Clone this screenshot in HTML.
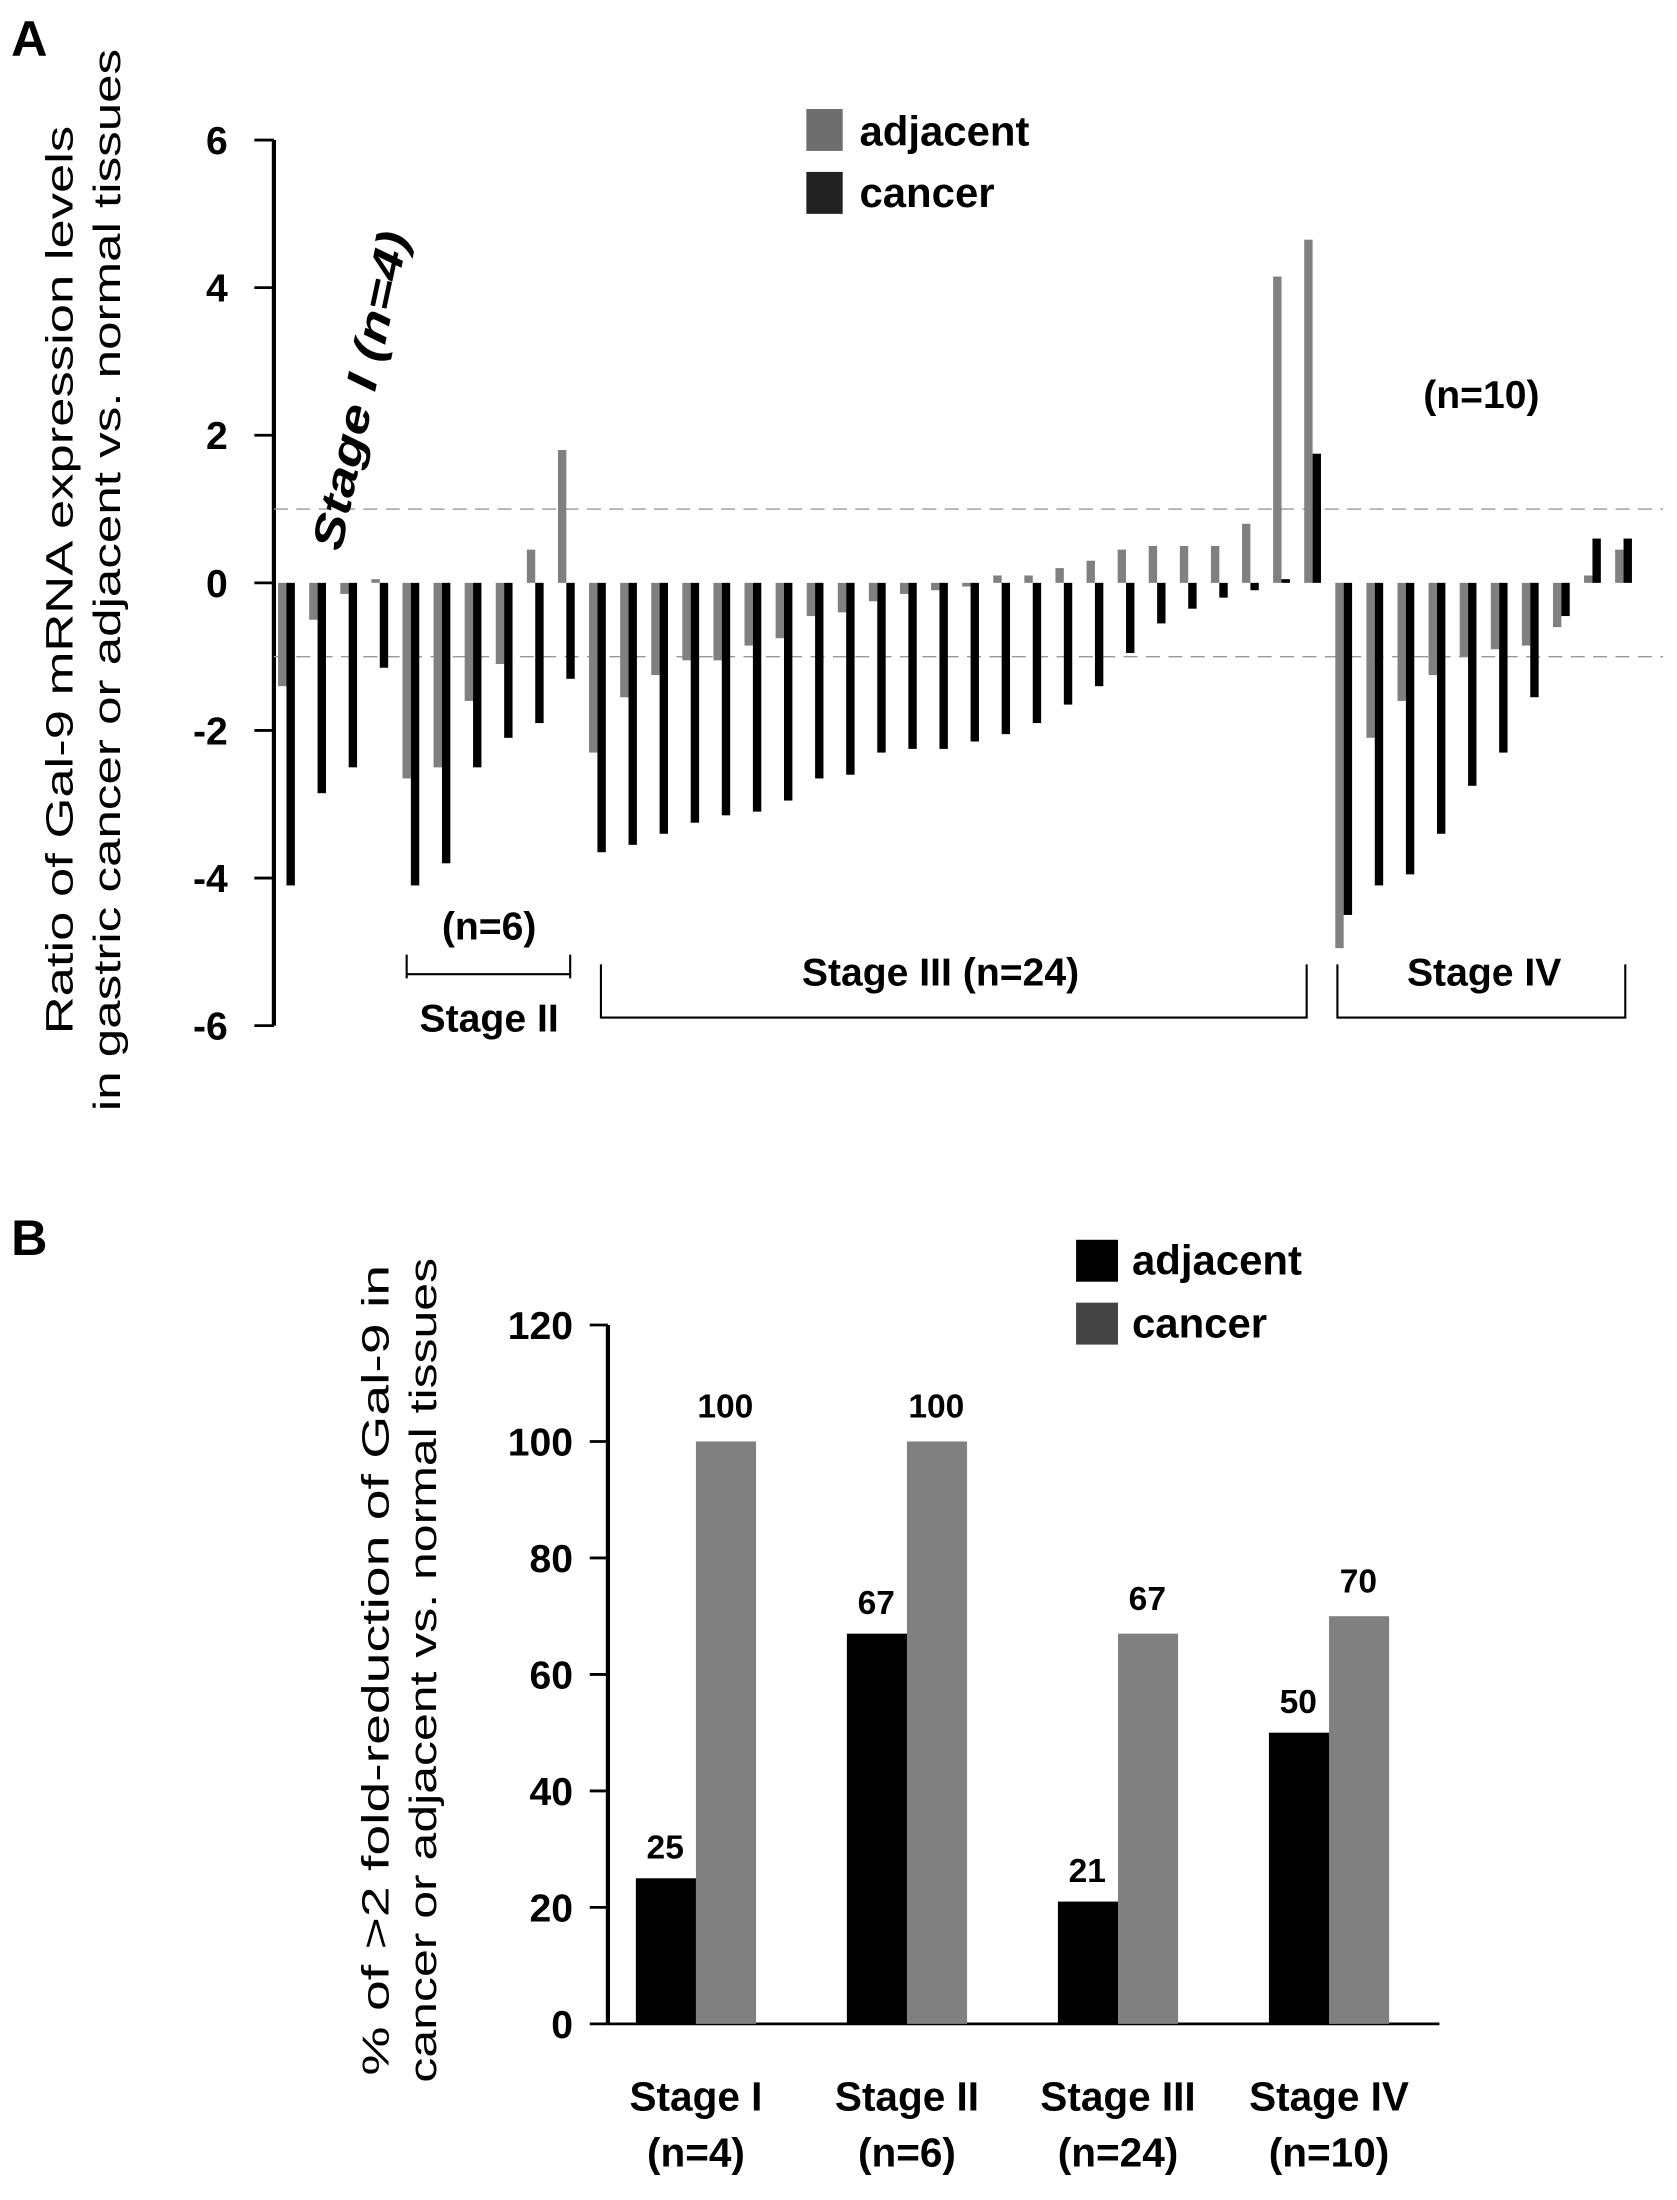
<!DOCTYPE html>
<html><head><meta charset="utf-8"><style>
html,body{margin:0;padding:0;background:#fff}
svg{display:block}
text{font-family:"Liberation Sans",Arial,sans-serif}
.b{font-weight:bold}
</style></head><body>
<svg id="fig" width="1677" height="2200" viewBox="0 0 1200 1574" preserveAspectRatio="none" xmlns="http://www.w3.org/2000/svg">
<rect width="1200" height="1574" fill="#fff"/>
<text x="8" y="40" class="b" font-size="36">A</text>
<text x="8" y="898" class="b" font-size="36">B</text>
<g id="chartA"></g>
<g id="chartB"></g>
</svg>
<script>
const NS='http://www.w3.org/2000/svg';
// ---- Chart A data ----
const stageIAdj=[-1.4,-0.5,-0.15,0.05];
const stageICan=[-4.1,-2.85,-2.5,-1.15];
const stageIIAdj=[-2.65,-2.5,-1.6,-1.1,0.45,1.8];
const stageIICan=[-4.1,-3.8,-2.5,-2.1,-1.9,-1.3];
const stageIIIAdj=[-2.3,-1.55,-1.25,-1.05,-1.05,-0.85,-0.75,-0.45,-0.4,-0.25,-0.15,-0.1,-0.05,0.1,0.1,0.2,0.3,0.45,0.5,0.5,0.5,0.8,4.15,4.65];
const stageIIICan=[-3.65,-3.55,-3.4,-3.25,-3.15,-3.1,-2.95,-2.65,-2.6,-2.3,-2.25,-2.25,-2.15,-2.05,-1.9,-1.65,-1.4,-0.95,-0.55,-0.35,-0.2,-0.1,0.05,1.75];
const stageIVAdj=[-4.95,-2.1,-1.6,-1.25,-1.0,-0.9,-0.85,-0.6,0.1,0.45];
const stageIVCan=[-4.5,-4.1,-3.95,-3.4,-2.75,-2.3,-1.55,-0.45,0.6,0.6];
const yTicksA=[6,4,2,0,-2,-4,-6];
// ---- Chart B data ----
const stagesB=['Stage I','Stage II','Stage III','Stage IV'];
const stagesBn=['(n=4)','(n=6)','(n=24)','(n=10)'];
const pctAdj=[25,67,21,50];
const pctCan=[100,100,67,70];
const yTicksB=[0,20,40,60,80,100,120];

function el(tag,attrs,parent,txt){const e=document.createElementNS(NS,tag);for(const k in attrs)e.setAttribute(k,attrs[k]);if(txt!==undefined)e.textContent=txt;parent.appendChild(e);return e;}

// Chart A
const A=document.getElementById('chartA');
const yA=v=>417-v*52.8;
const xA=i=>199+i*22.25;
el('line',{x1:196,y1:yA(6),x2:196,y2:yA(-6),stroke:'#000','stroke-width':3},A);
yTicksA.forEach(t=>{
  const l=el('line',{x1:182,y1:yA(t),x2:196,y2:yA(t),stroke:'#000','stroke-width':2},A);
  
  
  const tx=el('text',{x:163,y:yA(t)+10,'text-anchor':'end','font-size':28,class:'b'},A,String(t));
  
  
});
[1,-1].forEach(v=>{
  const l=el('line',{x1:196,y1:yA(v),x2:1190,y2:yA(v),stroke:'#999','stroke-width':1,'stroke-dasharray':'10,6'},A);
  
  
});
const adjAll=[...stageIAdj,...stageIIAdj,...stageIIIAdj,...stageIVAdj];
const canAll=[...stageICan,...stageIICan,...stageIIICan,...stageIVCan];
adjAll.forEach((v,i)=>{
  const r=el('rect',{x:xA(i),y:Math.min(yA(v),yA(0)),width:6,height:Math.max(1,Math.abs(yA(v)-yA(0))),fill:'#808080'},A);
  
  
});
canAll.forEach((v,i)=>{
  const r=el('rect',{x:xA(i)+6,y:Math.min(yA(v),yA(0)),width:6,height:Math.max(1,Math.abs(yA(v)-yA(0))),fill:'#000'},A);
  
  
});
// legend A
let r=el('rect',{x:577,y:78,width:26,height:30,fill:'#6e6e6e'},A);

r=el('rect',{x:577,y:123,width:26,height:30,fill:'#222'},A);

let t=el('text',{x:615,y:104,'font-size':30,class:'b'},A,'adjacent');

t=el('text',{x:615,y:148,'font-size':30,class:'b'},A,'cancer');

// y title A
t=el('text',{transform:'translate(52,415) rotate(-90)','text-anchor':'middle','font-size':27,textLength:650,lengthAdjust:'spacingAndGlyphs'},A,'Ratio of Gal-9 mRNA expression levels');

t=el('text',{transform:'translate(86,415) rotate(-90)','text-anchor':'middle','font-size':27,textLength:760,lengthAdjust:'spacingAndGlyphs'},A,'in gastric cancer or adjacent vs. normal tissues');

// annotations
t=el('text',{transform:'translate(244,395) rotate(-78)','font-size':31,class:'b','font-style':'italic',textLength:232,lengthAdjust:'spacingAndGlyphs'},A,'Stage I (n=4)');

t=el('text',{x:350,y:672,'text-anchor':'middle','font-size':28,class:'b'},A,'(n=6)');

t=el('text',{x:350,y:738,'text-anchor':'middle','font-size':28,class:'b'},A,'Stage II');

t=el('text',{x:673,y:705,'text-anchor':'middle','font-size':28,class:'b'},A,'Stage III (n=24)');

t=el('text',{x:1062,y:705,'text-anchor':'middle','font-size':28,class:'b'},A,'Stage IV');

t=el('text',{x:1060,y:292,'text-anchor':'middle','font-size':28,class:'b'},A,'(n=10)');

let p=el('path',{d:'M291,683V700M291,697H408M408,683V700',stroke:'#000','stroke-width':1.5,fill:'none'},A);

p=el('path',{d:'M430,690V728H935V690',stroke:'#000','stroke-width':1.5,fill:'none'},A);

p=el('path',{d:'M957,690V728H1163V690',stroke:'#000','stroke-width':1.5,fill:'none'},A);


// Chart B
const B=document.getElementById('chartB');
const yB=v=>1448-v*4.167;
const xB=i=>455+i*151;
el('line',{x1:435,y1:yB(120),x2:435,y2:yB(0),stroke:'#000','stroke-width':3},B);
el('line',{x1:435,y1:yB(0),x2:1030,y2:yB(0),stroke:'#000','stroke-width':2},B);
yTicksB.forEach(v=>{
  const l=el('line',{x1:422,y1:yB(v),x2:435,y2:yB(v),stroke:'#000','stroke-width':2},B);
  
  
  const tx=el('text',{x:410,y:yB(v)+10,'text-anchor':'end','font-size':28,class:'b'},B,String(v));
  
  
});
stagesB.forEach((s,i)=>{
  const x=xB(i);
  const a=el('rect',{x:x,y:yB(pctAdj[i]),width:43,height:yB(0)-yB(pctAdj[i]),fill:'#000'},B);
  
  
  const c=el('rect',{x:x+43,y:yB(pctCan[i]),width:43,height:yB(0)-yB(pctCan[i]),fill:'#808080'},B);
  
  
  const va=el('text',{x:x+21,y:yB(pctAdj[i])-14,'text-anchor':'middle','font-size':24,class:'b'},B,String(pctAdj[i]));
  
  
  const vc=el('text',{x:x+64,y:yB(pctCan[i])-17,'text-anchor':'middle','font-size':24,class:'b'},B,String(pctCan[i]));
  
  
  const l1=el('text',{x:x+43,y:1510,'text-anchor':'middle','font-size':29,class:'b'},B,s);
  
  
  const l2=el('text',{x:x+43,y:1550,'text-anchor':'middle','font-size':29,class:'b'},B,stagesBn[i]);
  
  
});
r=el('rect',{x:770,y:887,width:30,height:30,fill:'#000'},B);

r=el('rect',{x:770,y:932,width:30,height:30,fill:'#444'},B);

t=el('text',{x:810,y:912,'font-size':30,class:'b'},B,'adjacent');

t=el('text',{x:810,y:957,'font-size':30,class:'b'},B,'cancer');

t=el('text',{transform:'translate(278,1195) rotate(-90)','text-anchor':'middle','font-size':27,textLength:580,lengthAdjust:'spacingAndGlyphs'},B,'% of >2 fold-reduction of Gal-9 in');

t=el('text',{transform:'translate(312,1195) rotate(-90)','text-anchor':'middle','font-size':27,textLength:590,lengthAdjust:'spacingAndGlyphs'},B,'cancer or adjacent vs. normal tissues');

</script>
</body></html>
